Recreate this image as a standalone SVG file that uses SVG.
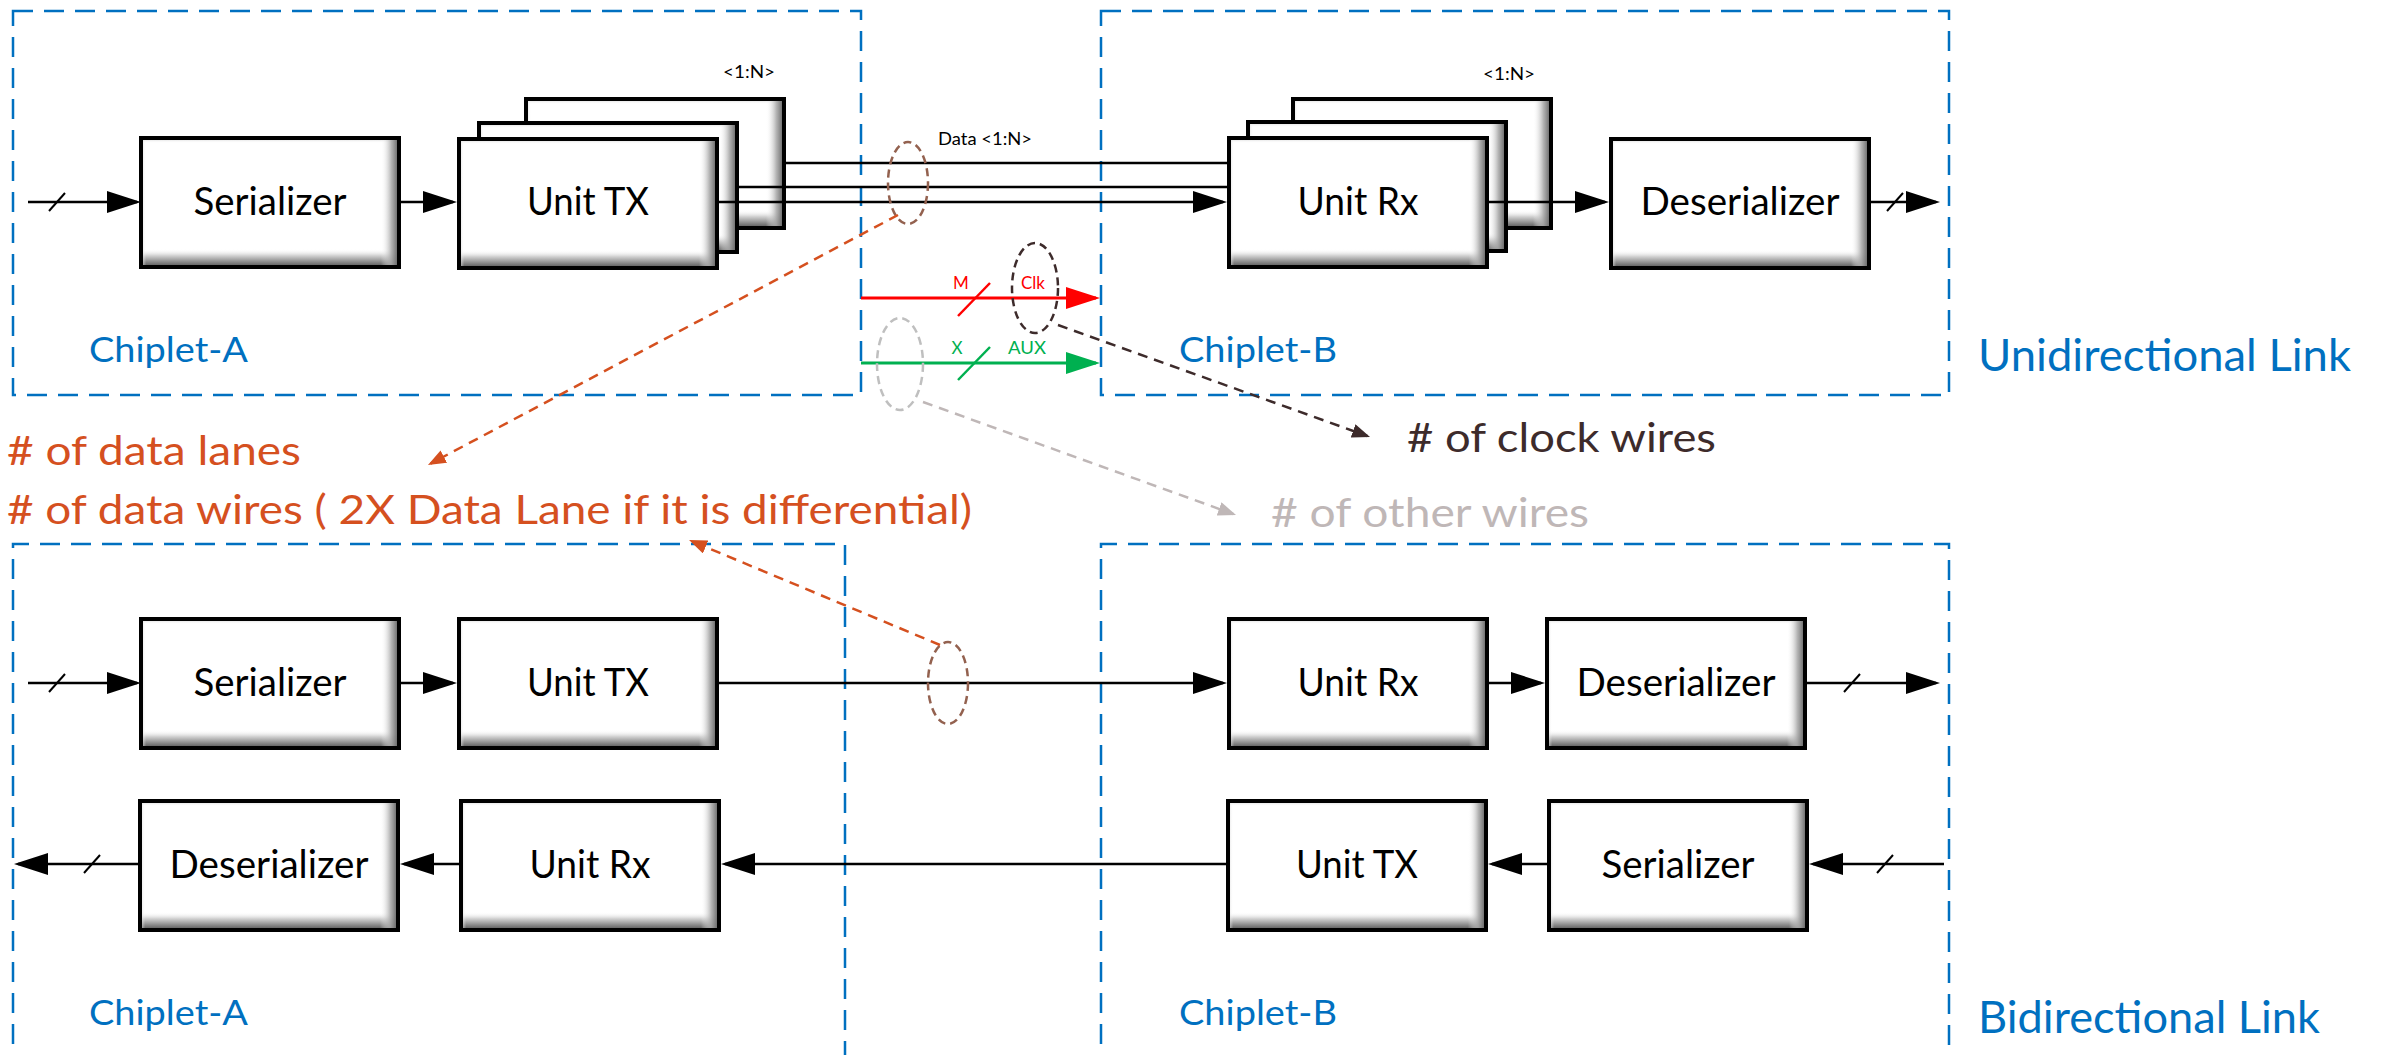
<svg xmlns="http://www.w3.org/2000/svg" xmlns:xlink="http://www.w3.org/1999/xlink" width="2384" height="1055" viewBox="0 0 2384 1055">
  <defs>
    <style>
      text { font-family: Lato, "Open Sans", "Liberation Sans", sans-serif; }
      .lbl { font-size: 38px; fill: #000; text-anchor: middle; }
      .chip { font-size: 35px; fill: #0070C0; }
      .link { font-size: 44px; fill: #0070C0; }
      .note { font-size: 40px; }
      .small { font-size: 17px; }
      .region { fill: none; stroke: #0070C0; stroke-width: 2.5; stroke-dasharray: 20 11; }
      .wire { stroke: #000; stroke-width: 2.5; fill: none; }
      .arrow { marker-end: url(#ah); }
      .slash { stroke: #000; stroke-width: 2; fill: none; }
      .callout { fill: none; stroke-width: 2.5; stroke-dasharray: 10 7; }
      .ring { fill: none; stroke-width: 2.5; stroke-dasharray: 8 5; }
    </style>
    <linearGradient id="shadeV" x1="0" y1="0" x2="0" y2="1">
      <stop offset="0" stop-color="#bdbdbd" stop-opacity="0.9"/>
      <stop offset="0.04" stop-color="#ffffff" stop-opacity="0"/>
      <stop offset="0.86" stop-color="#ffffff" stop-opacity="0"/>
      <stop offset="0.91" stop-color="#d4d4d4" stop-opacity="1"/>
      <stop offset="0.97" stop-color="#7c7c7c" stop-opacity="1"/>
      <stop offset="1" stop-color="#505050" stop-opacity="1"/>
    </linearGradient>
    <linearGradient id="shadeH" x1="0" y1="0" x2="1" y2="0">
      <stop offset="0" stop-color="#c8c8c8" stop-opacity="0.8"/>
      <stop offset="0.02" stop-color="#ffffff" stop-opacity="0"/>
      <stop offset="0.93" stop-color="#ffffff" stop-opacity="0"/>
      <stop offset="0.97" stop-color="#a8a8a8" stop-opacity="0.85"/>
      <stop offset="1" stop-color="#5a5a5a" stop-opacity="1"/>
    </linearGradient>
    <!-- bevelled block used by every functional unit -->
    <g id="box">
      <rect width="258" height="129" fill="#fff"/>
      <rect width="258" height="129" fill="url(#shadeV)"/>
      <rect width="258" height="129" fill="url(#shadeH)"/>
      <rect width="258" height="129" fill="none" stroke="#000" stroke-width="4"/>
    </g>
    <path id="tick" d="M-8,9 L8,-9" class="slash"/>
    <marker id="ah" markerUnits="userSpaceOnUse" markerWidth="34" markerHeight="22" viewBox="0 0 34 22" refX="30" refY="11" orient="auto">
      <path d="M0,0 L34,11 L0,22 Z" fill="#000"/>
    </marker>
    <marker id="ahRed" markerUnits="userSpaceOnUse" markerWidth="34" markerHeight="22" viewBox="0 0 34 22" refX="30" refY="11" orient="auto">
      <path d="M0,0 L34,11 L0,22 Z" fill="#FF0000"/>
    </marker>
    <marker id="ahGreen" markerUnits="userSpaceOnUse" markerWidth="34" markerHeight="22" viewBox="0 0 34 22" refX="30" refY="11" orient="auto">
      <path d="M0,0 L34,11 L0,22 Z" fill="#00B050"/>
    </marker>
    <marker id="ahOrange" markerUnits="userSpaceOnUse" markerWidth="18" markerHeight="14" viewBox="0 0 18 14" refX="15" refY="7" orient="auto">
      <path d="M0,0 L18,7 L0,14 Z" fill="#D5501F"/>
    </marker>
    <marker id="ahDark" markerUnits="userSpaceOnUse" markerWidth="18" markerHeight="14" viewBox="0 0 18 14" refX="15" refY="7" orient="auto">
      <path d="M0,0 L18,7 L0,14 Z" fill="#3D2B2B"/>
    </marker>
    <marker id="ahGray" markerUnits="userSpaceOnUse" markerWidth="18" markerHeight="14" viewBox="0 0 18 14" refX="15" refY="7" orient="auto">
      <path d="M0,0 L18,7 L0,14 Z" fill="#BFB7B7"/>
    </marker>
  </defs>

  <rect width="2384" height="1055" fill="#fff"/>

  <!-- chiplet outlines -->
  <g id="regions">
    <rect class="region" x="13" y="11" width="848" height="384"/>
    <rect class="region" x="1101" y="11" width="848" height="384"/>
    <path class="region" d="M13,1075 V544 H845 V1075"/>
    <path class="region" d="M1101,1075 V544 H1949 V1075"/>
  </g>

  <!-- unidirectional link blocks -->
  <g id="serializer-a">
    <use href="#box" x="141" y="138"/>
    <text class="lbl" x="270" y="215" textLength="153" lengthAdjust="spacingAndGlyphs">Serializer</text>
  </g>
  <g id="unit-tx-a">
    <use href="#box" x="526" y="99"/>
    <use href="#box" x="479" y="123"/>
    <use href="#box" x="459" y="139"/>
    <text class="lbl" x="588" y="215" textLength="122" lengthAdjust="spacingAndGlyphs">Unit TX</text>
    <text class="small" x="723" y="78" textLength="52" lengthAdjust="spacingAndGlyphs">&lt;1:N&gt;</text>
  </g>
  <g id="unit-rx-b">
    <use href="#box" x="1293" y="99"/>
    <use href="#box" x="1248" y="122"/>
    <use href="#box" x="1229" y="138"/>
    <text class="lbl" x="1358" y="215" textLength="121" lengthAdjust="spacingAndGlyphs">Unit Rx</text>
    <text class="small" x="1483" y="80" textLength="52" lengthAdjust="spacingAndGlyphs">&lt;1:N&gt;</text>
  </g>
  <g id="deserializer-b">
    <use href="#box" x="1611" y="139"/>
    <text class="lbl" x="1740" y="215" textLength="199" lengthAdjust="spacingAndGlyphs">Deserializer</text>
  </g>

  <!-- bidirectional link blocks -->
  <g id="serializer-a2">
    <use href="#box" x="141" y="619"/>
    <text class="lbl" x="270" y="696" textLength="153" lengthAdjust="spacingAndGlyphs">Serializer</text>
  </g>
  <g id="unit-tx-a2">
    <use href="#box" x="459" y="619"/>
    <text class="lbl" x="588" y="696" textLength="122" lengthAdjust="spacingAndGlyphs">Unit TX</text>
  </g>
  <g id="unit-rx-b2">
    <use href="#box" x="1229" y="619"/>
    <text class="lbl" x="1358" y="696" textLength="121" lengthAdjust="spacingAndGlyphs">Unit Rx</text>
  </g>
  <g id="deserializer-b2">
    <use href="#box" x="1547" y="619"/>
    <text class="lbl" x="1676" y="696" textLength="199" lengthAdjust="spacingAndGlyphs">Deserializer</text>
  </g>
  <g id="deserializer-a2">
    <use href="#box" x="140" y="801"/>
    <text class="lbl" x="269" y="878" textLength="199" lengthAdjust="spacingAndGlyphs">Deserializer</text>
  </g>
  <g id="unit-rx-a2">
    <use href="#box" x="461" y="801"/>
    <text class="lbl" x="590" y="878" textLength="121" lengthAdjust="spacingAndGlyphs">Unit Rx</text>
  </g>
  <g id="unit-tx-b2">
    <use href="#box" x="1228" y="801"/>
    <text class="lbl" x="1357" y="878" textLength="122" lengthAdjust="spacingAndGlyphs">Unit TX</text>
  </g>
  <g id="serializer-b2">
    <use href="#box" x="1549" y="801"/>
    <text class="lbl" x="1678" y="878" textLength="153" lengthAdjust="spacingAndGlyphs">Serializer</text>
  </g>

  <!-- signal wiring -->
  <g id="connectors">
    <!-- unidirectional -->
    <line class="wire arrow" x1="28" y1="202" x2="137" y2="202"/>
    <use href="#tick" x="57" y="202"/>
    <line class="wire arrow" x1="401" y1="202" x2="453" y2="202"/>
    <line class="wire" x1="786" y1="163" x2="1228" y2="163"/>
    <line class="wire" x1="739" y1="187" x2="1228" y2="187"/>
    <line class="wire arrow" x1="719" y1="202" x2="1223" y2="202"/>
    <line class="wire arrow" x1="1489" y1="202" x2="1605" y2="202"/>
    <line class="wire arrow" x1="1871" y1="202" x2="1936" y2="202"/>
    <use href="#tick" x="1895" y="202"/>
    <line x1="861" y1="298" x2="1096" y2="298" stroke="#FF0000" stroke-width="3" marker-end="url(#ahRed)"/>
    <path d="M958,316 L990,283" stroke="#FF0000" stroke-width="2.5"/>
    <line x1="861" y1="363" x2="1096" y2="363" stroke="#00B050" stroke-width="3" marker-end="url(#ahGreen)"/>
    <path d="M958,380 L990,347" stroke="#00B050" stroke-width="2.5"/>

    <!-- bidirectional, upper lane -->
    <line class="wire arrow" x1="28" y1="683" x2="137" y2="683"/>
    <use href="#tick" x="57" y="683"/>
    <line class="wire arrow" x1="401" y1="683" x2="453" y2="683"/>
    <line class="wire arrow" x1="719" y1="683" x2="1223" y2="683"/>
    <line class="wire arrow" x1="1489" y1="683" x2="1541" y2="683"/>
    <line class="wire arrow" x1="1807" y1="683" x2="1936" y2="683"/>
    <use href="#tick" x="1852" y="683"/>

    <!-- bidirectional, lower lane -->
    <line class="wire arrow" x1="1944" y1="864" x2="1813" y2="864"/>
    <use href="#tick" x="1885" y="864"/>
    <line class="wire arrow" x1="1547" y1="864" x2="1492" y2="864"/>
    <line class="wire arrow" x1="1226" y1="864" x2="725" y2="864"/>
    <line class="wire arrow" x1="459" y1="864" x2="404" y2="864"/>
    <line class="wire arrow" x1="138" y1="864" x2="18" y2="864"/>
    <use href="#tick" x="92" y="864"/>

    <!-- wire-group rings and callouts -->
    <ellipse class="ring" cx="908" cy="183" rx="20" ry="41" stroke="#93614F"/>
    <ellipse class="ring" cx="1035" cy="288" rx="23" ry="45" stroke="#3D2B2B"/>
    <ellipse class="ring" cx="900" cy="364" rx="23" ry="46" stroke="#BFBFBF"/>
    <ellipse class="ring" cx="948" cy="683" rx="20" ry="41" stroke="#93614F"/>
    <line class="callout" x1="898" y1="215" x2="430.6" y2="463.6" stroke="#D5501F" marker-end="url(#ahOrange)"/>
    <line class="callout" x1="940" y1="645" x2="691.8" y2="541.2" stroke="#D5501F" marker-end="url(#ahOrange)"/>
    <line class="callout" x1="1058" y1="325" x2="1367.2" y2="436" stroke="#3D2B2B" marker-end="url(#ahDark)"/>
    <line class="callout" x1="923" y1="402" x2="1233.2" y2="514" stroke="#BFB7B7" marker-end="url(#ahGray)"/>
  </g>

  <!-- wire labels -->
  <g id="wire-labels">
    <text class="small" x="938" y="145" textLength="94" lengthAdjust="spacingAndGlyphs">Data &lt;1:N&gt;</text>
    <text class="small" x="961" y="289" fill="#FF0000" text-anchor="middle">M</text>
    <text class="small" x="1021" y="289" fill="#FF0000" textLength="24" lengthAdjust="spacingAndGlyphs">Clk</text>
    <text class="small" x="957" y="354" fill="#00B050" text-anchor="middle">X</text>
    <text class="small" x="1008" y="354" fill="#00B050" textLength="38" lengthAdjust="spacingAndGlyphs">AUX</text>
  </g>

  <!-- region and link captions -->
  <g id="captions">
    <text class="chip" x="89" y="362" textLength="159" lengthAdjust="spacingAndGlyphs">Chiplet-A</text>
    <text class="chip" x="1179" y="362" textLength="158" lengthAdjust="spacingAndGlyphs">Chiplet-B</text>
    <text class="chip" x="89" y="1025" textLength="159" lengthAdjust="spacingAndGlyphs">Chiplet-A</text>
    <text class="chip" x="1179" y="1025" textLength="158" lengthAdjust="spacingAndGlyphs">Chiplet-B</text>
    <text class="link" x="1978" y="371" textLength="373" lengthAdjust="spacingAndGlyphs">Unidirectional Link</text>
    <text class="link" x="1978" y="1033" textLength="342" lengthAdjust="spacingAndGlyphs">Bidirectional Link</text>
  </g>

  <!-- callout notes -->
  <g id="notes">
    <text class="note" x="7" y="465" fill="#D5501F" textLength="294" lengthAdjust="spacingAndGlyphs"># of data lanes</text>
    <text class="note" x="7" y="524" fill="#D5501F" textLength="965" lengthAdjust="spacingAndGlyphs"># of data wires ( 2X Data Lane if it is differential)</text>
    <text class="note" x="1407" y="452" fill="#3D2B2B" textLength="309" lengthAdjust="spacingAndGlyphs"># of clock wires</text>
    <text class="note" x="1271" y="527" fill="#BFB7B7" textLength="318" lengthAdjust="spacingAndGlyphs"># of other wires</text>
  </g>
</svg>
